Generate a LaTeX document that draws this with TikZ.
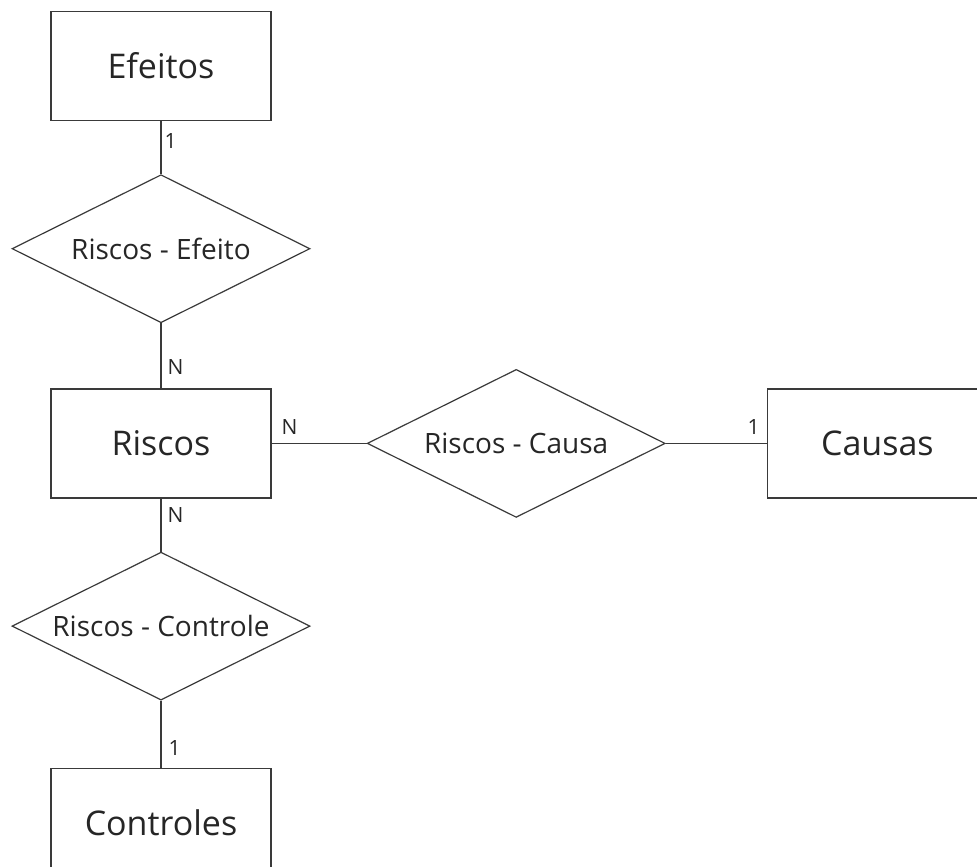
\documentclass[tikz,border=0pt]{standalone}
\usepackage{fontspec}
\setmainfont{Open Sans}
\usetikzlibrary{positioning,shapes.geometric}
\definecolor{linegray}{HTML}{3A3A3A}
\definecolor{textgray}{HTML}{262626}

\begin{document}
\begin{tikzpicture}[
  entity/.style={draw=linegray,line width=1.2pt,minimum width=220pt,minimum height=109pt,inner sep=0pt,text=textgray,font=\fontsize{34}{40}\selectfont},
  relation/.style={draw=linegray,line width=1.2pt,diamond,aspect=2,minimum width=298pt,minimum height=148pt,inner sep=0pt,text=textgray,font=\fontsize{28}{33}\selectfont},
  card/.style={text=textgray,inner sep=1pt,font=\fontsize{21}{24}\selectfont},
  link/.style={draw=linegray,line width=1.2pt}
]
\useasboundingbox (0,0) rectangle (977pt,-867pt);
\node[entity] (efeitos) at (161pt,-66pt) {Efeitos};
\node[relation,below=53pt of efeitos] (rel_efeito) {Riscos - Efeito};
\node[entity,below=65pt of rel_efeito] (riscos) {Riscos};
\node[relation,right=95pt of riscos] (rel_causa) {Riscos - Causa};
\node[entity,right=101pt of rel_causa] (causas) {Causas};
\node[relation,below=53pt of riscos] (rel_controle) {Riscos - Controle};
\node[entity,below=67pt of rel_controle] (controles) {Controles};
\draw[link] (efeitos) -- node[card,pos=.38,right=2pt] {1} (rel_efeito);
\draw[link] (rel_efeito) -- node[card,pos=.68,right=5pt] {N} (riscos);
\draw[link] (riscos) -- node[card,pos=.19,above=7pt] {N} (rel_causa);
\draw[link] (rel_causa) -- node[card,pos=.87,above=7pt] {1} (causas);
\draw[link] (riscos) -- node[card,pos=.32,right=5pt] {N} (rel_controle);
\draw[link] (rel_controle) -- node[card,pos=.7,right=6pt] {1} (controles);
\end{tikzpicture}
\end{document}
